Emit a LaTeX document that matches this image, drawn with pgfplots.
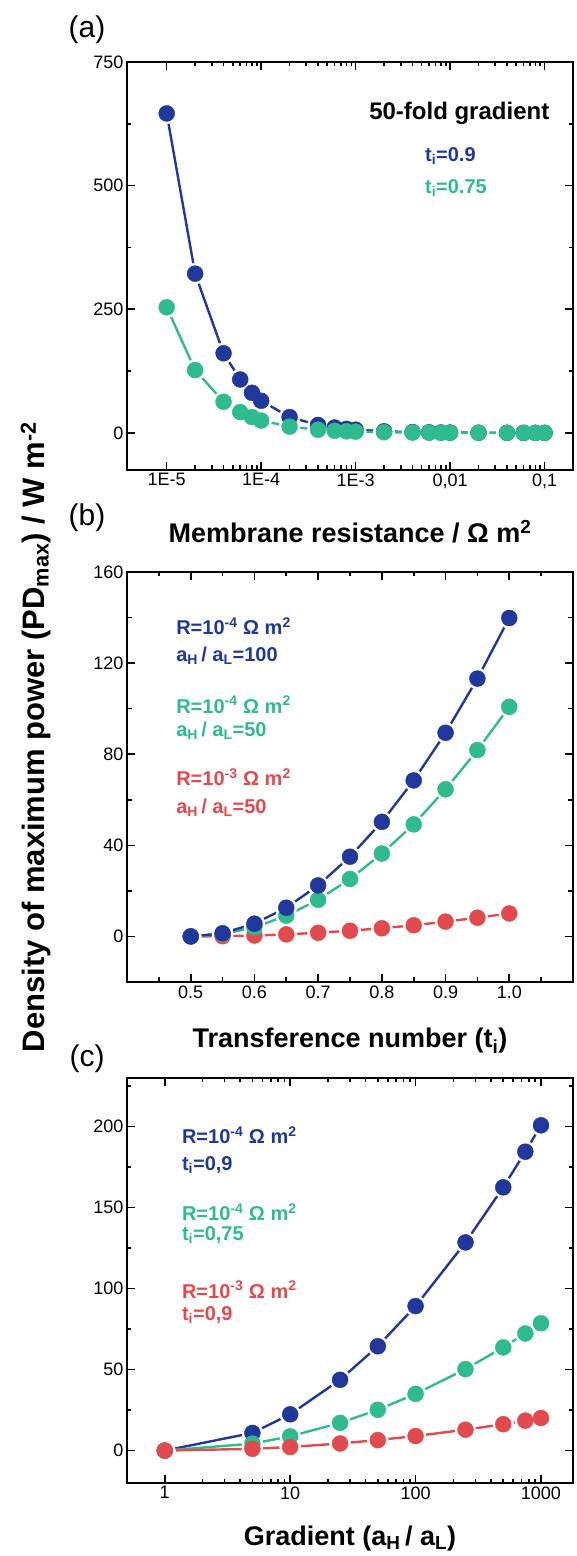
\documentclass[border=0pt]{standalone}
\usepackage{pgfplots}
\usepackage{pgfplotstable}
\pgfplotsset{compat=1.18}
\usepackage{fontspec}
\setmainfont{Liberation Sans}

\definecolor{cblue}{RGB}{32,56,155}
\definecolor{cteal}{RGB}{46,188,142}
\definecolor{cred}{RGB}{226,74,78}

% (a) power density vs membrane resistance, 50-fold gradient
\pgfplotstableread{
R       t90     t75
1e-5    646     254
2e-5    322     127
4e-5    161     63
6e-5    108     42
8e-5    81      32
1e-4    65      25
2e-4    32      12.7
4e-4    16      6.4
6e-4    10.8    4.2
8e-4    8.1     3.2
1e-3    6.5     2.5
2e-3    3.2     1.3
4e-3    1.6     0.64
6e-3    1.1     0.42
8e-3    0.8     0.32
1e-2    0.65    0.25
2e-2    0.32    0.13
4e-2    0.16    0.06
6e-2    0.11    0.04
8e-2    0.08    0.03
1e-1    0.065   0.025
}\tabA

% (b) vs transference number
\pgfplotstableread{
t     blue    teal    red
0.50  0       0       0
0.55  1.4     1.0     0.1
0.60  5.6     4.0     0.4
0.65  12.6    9.1     0.9
0.70  22.4    16.1    1.6
0.75  35      25.2    2.5
0.80  50.3    36.4    3.6
0.85  68.5    49.2    4.9
0.90  89.4    64.6    6.5
0.95  113.2   81.8    8.2
1.00  139.8   100.8   10.1
}\tabB

% (c) vs gradient
\pgfplotstableread{
g     blue    teal    red
1     0       0       0
5     10.9    4.3     1.1
10    22.4    8.8     2.2
25    43.7    17.1    4.4
50    64.4    25.2    6.5
100   89.2    35      9
250   128.5   50.3    12.9
500   162.5   63.7    16.3
750   184.5   72.3    18.5
1000  200.8   78.6    20.1
}\tabC

% three passes: lines, white gaps round the symbols, symbols
\newcommand\sline[4]{\addplot[#4, line width=2.4pt, mark=none] table[x=#2, y=#3] {#1};}
\newcommand\sgap[3]{\addplot[white, only marks, mark=*, mark size=10.5pt] table[x=#2, y=#3] {#1};}
\newcommand\smark[4]{\addplot[#4, only marks, mark=*, mark size=8pt] table[x=#2, y=#3] {#1};}

\pgfplotsset{
  panel/.style={
    width=446pt, scale only axis,
    axis line style={line width=2.2pt},
    tick style={line width=1.6pt, black},
    major tick length=8pt, minor tick length=4.5pt,
    tick align=inside,
    ticklabel style={font=\fontsize{18}{18}\selectfont},
    /pgf/number format/assume math mode=true,
    xlabel style={font=\bfseries\fontsize{27}{27}\selectfont, anchor=base},
    clip=false,
  },
}
\tikzset{note/.style={font=\bfseries\fontsize{20}{20}\selectfont, anchor=west, inner sep=0pt}}

\begin{document}
\begin{tikzpicture}[x=1pt,y=1pt]
\path[use as bounding box] (0,0) rectangle (576,1556);

\begin{axis}[panel, name=A, at={(127pt,1086pt)}, anchor=south west, height=408pt,
  xmode=log, xmin=3.8e-6, xmax=0.2, ymin=-75, ymax=750,
  xtick={1e-5,1e-4,1e-3,1e-2,1e-1},
  xticklabels={1E-5,1E-4,1E-3,{0,01},{0,1}},
  ytick={0,250,500,750}, minor ytick={125,375,625},
  xlabel={Membrane resistance / Ω m\textsuperscript{2}},
  xlabel style={at={(axis description cs:0.5,0)}, yshift=-73pt},
]
\sline{\tabA}{R}{t90}{cblue}
\sline{\tabA}{R}{t75}{cteal}
\sgap{\tabA}{R}{t90}
\sgap{\tabA}{R}{t75}
\smark{\tabA}{R}{t90}{cblue}
\smark{\tabA}{R}{t75}{cteal}
\node[font=\bfseries\fontsize{24}{24}\selectfont, anchor=center] at (rel axis cs:0.745,0.875) {50-fold gradient};
\node[note, text=cblue] at (rel axis cs:0.668,0.77) {t\textsubscript{i}=0.9};
\node[note, text=cteal] at (rel axis cs:0.668,0.69) {t\textsubscript{i}=0.75};
\end{axis}

\begin{axis}[panel, name=B, at={(127pt,574pt)}, anchor=south west, height=410pt,
  xmin=0.4, xmax=1.1, ymin=-20, ymax=160,
  xtick={0.5,0.6,0.7,0.8,0.9,1.0},
  xticklabels={0.5,0.6,0.7,0.8,0.9,1.0},
  minor xtick={0.45,0.55,0.65,0.75,0.85,0.95,1.05},
  ytick={0,40,80,120,160}, minor ytick={20,60,100,140},
  xlabel={Transference number (t\textsubscript{i})},
  xlabel style={at={(axis description cs:0.5,0)}, yshift=-66pt},
]
\sline{\tabB}{t}{red}{cred}
\sline{\tabB}{t}{teal}{cteal}
\sline{\tabB}{t}{blue}{cblue}
\sgap{\tabB}{t}{red}
\sgap{\tabB}{t}{teal}
\sgap{\tabB}{t}{blue}
\smark{\tabB}{t}{red}{cred}
\smark{\tabB}{t}{teal}{cteal}
\smark{\tabB}{t}{blue}{cblue}
\node[note, text=cblue] at (rel axis cs:0.11,0.868) {R=10\textsuperscript{-4} Ω m\textsuperscript{2}};
\node[note, text=cblue] at (rel axis cs:0.11,0.795) {a\textsubscript{H}\,/ a\textsubscript{L}=100};
\node[note, text=cteal] at (rel axis cs:0.11,0.676) {R=10\textsuperscript{-4} Ω m\textsuperscript{2}};
\node[note, text=cteal] at (rel axis cs:0.11,0.612) {a\textsubscript{H}\,/ a\textsubscript{L}=50};
\node[note, text=cred] at (rel axis cs:0.11,0.50) {R=10\textsuperscript{-3} Ω m\textsuperscript{2}};
\node[note, text=cred] at (rel axis cs:0.11,0.424) {a\textsubscript{H}\,/ a\textsubscript{L}=50};
\end{axis}

\begin{axis}[panel, name=C, at={(127pt,73pt)}, anchor=south west, height=405pt,
  xmode=log, xmin=0.5, xmax=1800, ymin=-20, ymax=230,
  xtick={1,10,100,1000}, xticklabels={1,10,100,1000},
  ytick={0,50,100,150,200}, minor ytick={25,75,125,175,225},
  xlabel={Gradient (a\textsubscript{H}\,/ a\textsubscript{L})},
  xlabel style={at={(axis description cs:0.5,0)}, yshift=-62pt},
]
\sline{\tabC}{g}{blue}{cblue}
\sline{\tabC}{g}{teal}{cteal}
\sline{\tabC}{g}{red}{cred}
\sgap{\tabC}{g}{blue}
\sgap{\tabC}{g}{teal}
\sgap{\tabC}{g}{red}
\smark{\tabC}{g}{blue}{cblue}
\smark{\tabC}{g}{teal}{cteal}
\smark{\tabC}{g}{red}{cred}
\node[note, text=cblue] at (rel axis cs:0.123,0.859) {R=10\textsuperscript{-4} Ω m\textsuperscript{2}};
\node[note, text=cblue] at (rel axis cs:0.123,0.785) {t\textsubscript{i}=0,9};
\node[note, text=cteal] at (rel axis cs:0.123,0.669) {R=10\textsuperscript{-4} Ω m\textsuperscript{2}};
\node[note, text=cteal] at (rel axis cs:0.123,0.612) {t\textsubscript{i}=0,75};
\node[note, text=cred] at (rel axis cs:0.123,0.477) {R=10\textsuperscript{-3} Ω m\textsuperscript{2}};
\node[note, text=cred] at (rel axis cs:0.123,0.415) {t\textsubscript{i}=0,9};
\end{axis}

\node[font=\fontsize{30}{30}\selectfont] at (87,1526) {(a)};
\node[font=\fontsize{30}{30}\selectfont] at (87,1038) {(b)};
\node[font=\fontsize{30}{30}\selectfont] at (87,497) {(c)};
\node[rotate=90, font=\bfseries\fontsize{31}{31}\selectfont] at (36,819)
  {Density of maximum power (PD\textsubscript{max}) / W m\textsuperscript{-2}};
\end{tikzpicture}
\end{document}
